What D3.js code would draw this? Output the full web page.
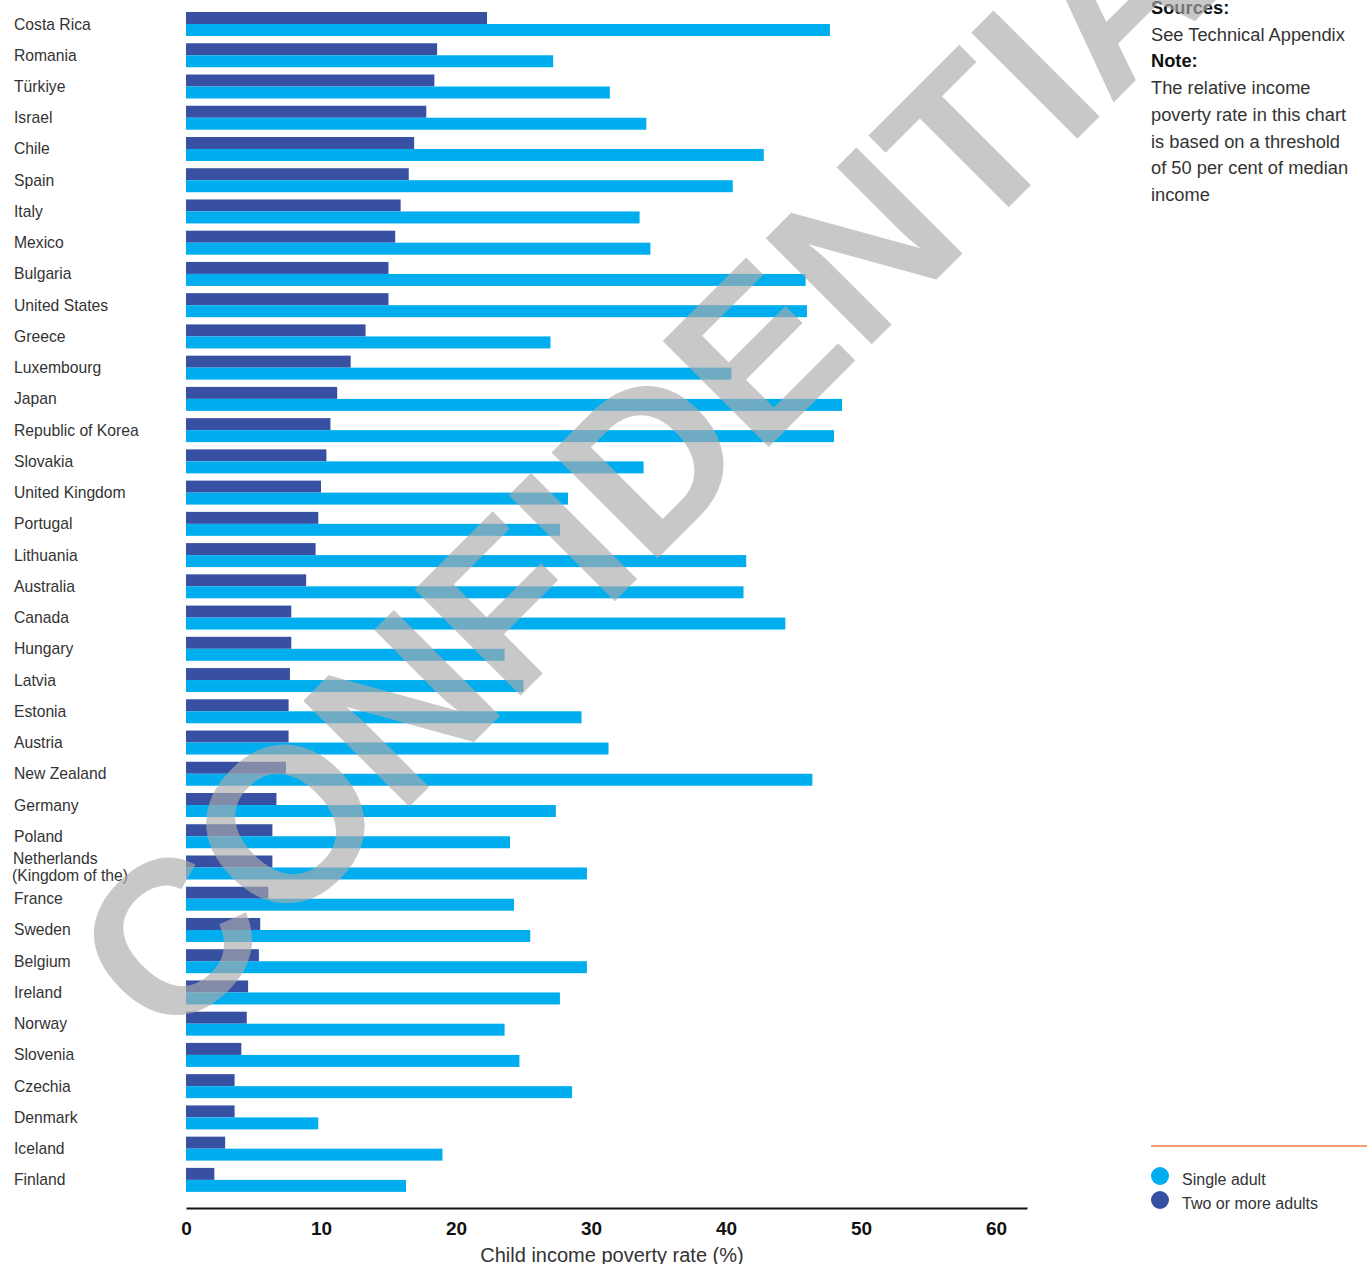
<!DOCTYPE html>
<html>
<head>
<meta charset="utf-8">
<script src="https://cdn.jsdelivr.net/npm/d3@7/dist/d3.min.js"></script>
<style>
  html, body { margin: 0; padding: 0; background: #fff; }
  svg { display: block; }
  text { font-family: "Liberation Sans", Arial, Helvetica, sans-serif; }
</style>
</head>
<body>
<svg id="chart" width="1367" height="1264"></svg>
<script>
const countries = ["Costa Rica","Romania","Türkiye","Israel","Chile","Spain","Italy","Mexico","Bulgaria","United States","Greece","Luxembourg","Japan","Republic of Korea","Slovakia","United Kingdom","Portugal","Lithuania","Australia","Canada","Hungary","Latvia","Estonia","Austria","New Zealand","Germany","Poland","Netherlands (Kingdom of the)","France","Sweden","Belgium","Ireland","Norway","Slovenia","Czechia","Denmark","Iceland","Finland"];
const twoOrMoreAdults = [22.3,18.6,18.4,17.8,16.9,16.5,15.9,15.5,15.0,15.0,13.3,12.2,11.2,10.7,10.4,10.0,9.8,9.6,8.9,7.8,7.8,7.7,7.6,7.6,7.4,6.7,6.4,6.4,6.1,5.5,5.4,4.6,4.5,4.1,3.6,3.6,2.9,2.1];
const singleAdult = [47.7,27.2,31.4,34.1,42.8,40.5,33.6,34.4,45.9,46.0,27.0,40.4,48.6,48.0,33.9,28.3,27.7,41.5,41.3,44.4,23.6,25.0,29.3,31.3,46.4,27.4,24.0,29.7,24.3,25.5,29.7,27.7,23.6,24.7,28.6,9.8,19.0,16.3];
const xTicks = [0,10,20,30,40,50,60];
const seriesNames = ["Two or more adults","Single adult"];
const legendItems = ["Single adult","Two or more adults"];
const axisTitle = "Child income poverty rate (%)";
const notesLines = [
  {t:"Sources:", b:true},
  {t:"See Technical Appendix", b:false},
  {t:"Note:", b:true},
  {t:"The relative income", b:false},
  {t:"poverty rate in this chart", b:false},
  {t:"is based on a threshold", b:false},
  {t:"of 50 per cent of median", b:false},
  {t:"income", b:false}
];
const watermark = "CONFIDENTIAL";

const colors = {"Single adult":"#00AEEF","Two or more adults":"#3750A2"};

const svg = d3.select("#chart");

const x = d3.scaleLinear().domain([0, 62.3]).range([186, 1027]);
const y = d3.scaleBand().domain(countries).range([8.4, 1195.5]).paddingInner(0.232).paddingOuter(0.116);
const ySub = d3.scaleBand().domain(seriesNames).range([0, y.bandwidth()]);

const data = countries.map((c,i) => ({country:c, values:[
  {series:"Two or more adults", v: twoOrMoreAdults[i]},
  {series:"Single adult", v: singleAdult[i]}
]}));

const groups = svg.append("g").selectAll("g").data(data).join("g")
  .attr("transform", d => `translate(0,${y(d.country)})`);

groups.selectAll("rect").data(d => d.values).join("rect")
  .attr("x", x(0))
  .attr("y", d => ySub(d.series))
  .attr("width", d => x(d.v) - x(0))
  .attr("height", ySub.bandwidth())
  .attr("fill", d => colors[d.series]);

// country labels
const lab = svg.append("g").selectAll("text").data(countries).join("text")
  .attr("x", 14)
  .attr("font-size", 15.7)
  .attr("fill", "#333")
  .attr("dominant-baseline", "central");
lab.each(function(c){
  const t = d3.select(this);
  const cy = y(c) + y.bandwidth()/2;
  if (c.startsWith("Netherlands")) {
    t.append("tspan").attr("x", 13).attr("y", cy - 9).text("Netherlands");
    t.append("tspan").attr("x", 12).attr("y", cy + 8).text("(Kingdom of the)");
  } else {
    t.attr("y", cy).text(c);
  }
});

// x axis
const axisY = 1208;
const ax = svg.append("g").attr("transform", `translate(0,${axisY})`)
  .call(d3.axisBottom(x).tickValues(xTicks).tickSize(0).tickPadding(0).tickFormat(d3.format("d")));
ax.select(".domain").attr("stroke", "#111").attr("stroke-width", 2);
ax.selectAll(".tick text")
  .attr("y", 20).attr("dy", "0.35em")
  .attr("font-size", 19).attr("font-weight", "bold")
  .attr("fill", "#111")
  .attr("font-family", "'Liberation Sans', Arial, sans-serif");

svg.append("text")
  .attr("x", 612).attr("y", 1262)
  .attr("text-anchor", "middle")
  .attr("font-size", 20)
  .attr("fill", "#333")
  .text(axisTitle);

// notes
svg.append("g").selectAll("text").data(notesLines).join("text")
  .attr("x", 1151)
  .attr("y", (d,i) => 14 + i*26.7)
  .attr("font-size", 18.3)
  .attr("font-weight", d => d.b ? "bold" : "normal")
  .attr("fill", d => d.b ? "#111" : "#333")
  .text(d => d.t);

// legend
svg.append("line")
  .attr("x1", 1151).attr("x2", 1367).attr("y1", 1146).attr("y2", 1146)
  .attr("stroke", "#F47B3A").attr("stroke-width", 1.5);
const lg = svg.append("g").selectAll("g").data(legendItems).join("g")
  .attr("transform", (d,i) => `translate(1160,${1176 + i*24})`);
lg.append("circle").attr("r", 9).attr("fill", d => colors[d]);
lg.append("text").attr("x", 22).attr("y", 3).attr("dominant-baseline", "central")
  .attr("font-size", 16).attr("fill", "#333").text(d => d);

// watermark
svg.append("text")
  .attr("transform", "translate(686,419) rotate(-45)")
  .attr("text-anchor", "middle")
  .attr("dy", "0.36em")
  .attr("font-size", 218)
  .attr("font-weight", "bold")
  .attr("fill", "rgb(171,171,171)")
  .attr("fill-opacity", 0.65)
  .text(watermark);
</script>
</body>
</html>
